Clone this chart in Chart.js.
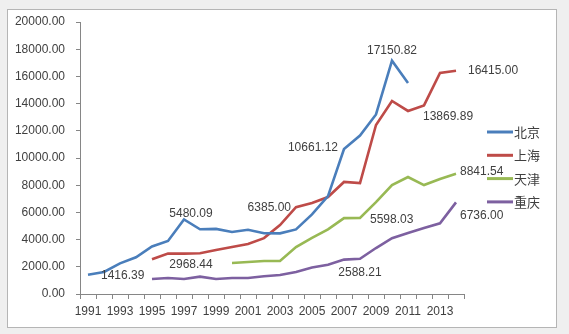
<!DOCTYPE html>
<html>
<head>
<meta charset="utf-8">
<script src="https://cdn.jsdelivr.net/npm/chart.js@4"></script>
<style>
  html, body { margin: 0; padding: 0; background: #efefef; }
  canvas { display: block; }
</style>
</head>
<body>
<canvas id="c" width="569" height="334"></canvas>
<script>
const years = ["1991","1992","1993","1994","1995","1996","1997","1998","1999","2000","2001","2002",
  "2003","2004","2005","2006","2007","2008","2009","2010","2011","2012","2013","2014"];
const cities = ["北京", "上海", "天津", "重庆"];
const colors = ["#4a7ebb", "#be4b48", "#98b954", "#7d60a0"];

const beijing = [1416.39, 1620, 2250, 2700, 3500, 3900, 5480.09, 4760, 4790, 4560, 4720, 4470,
  4460, 4750, 5850, 7200, 10661.12, 11650, 13200, 17150.82, 15520, null, null, null];
const shanghai = [null, null, null, null, 2550, 2980, 2968.44, 3000, 3230, 3450, 3680, 4110,
  5070, 6385.00, 6690, 7130, 8240, 8160, 12430, 14190, 13460, 13869.89, 16250, 16415.00];
const tianjin = [null, null, null, null, null, null, null, null, null, 2280, 2350, 2430,
  2430, 3450, 4120, 4750, 5580, 5598.03, 6760, 8010, 8600, 8010, 8460, 8841.54];
const chongqing = [null, null, null, null, 1100, 1180, 1100, 1280, 1100, 1180, 1180, 1300,
  1400, 1620, 1950, 2150, 2530, 2588.21, 3380, 4100, 4480, 4850, 5200, 6736.00];

// which points carry a value label: [series, year index]
const labelled = [[0, 0], [0, 6], [1, 6], [1, 13], [0, 16], [0, 19], [1, 21], [1, 23], [2, 17], [2, 23], [3, 17], [3, 23]];
// where each label sits relative to its point
const labelPlace = [
  ["left", 13, 1], ["center", 7, -6], ["center", 7, 11], ["right", -5, 1],
  ["right", -6, -1], ["center", 0, -10], ["left", -1, 11], ["left", 12, 0],
  ["left", 10, 2], ["left", 4, -2], ["center", 0, 14], ["left", 4, 13]
];

const font = "'Liberation Sans', Arial, sans-serif";
const textColor = "#404040";
const axisColor = "#868686";

const frame = {
  id: "frame",
  beforeDraw(chart) {
    const ctx = chart.ctx;
    ctx.save();
    ctx.fillStyle = "#efefef";
    ctx.fillRect(0, 0, chart.width, chart.height);
    ctx.fillStyle = "#ffffff";
    ctx.fillRect(7, 9, 549, 318);
    ctx.strokeStyle = "#b5b5b5";
    ctx.lineWidth = 1;
    ctx.strokeRect(7.5, 9.5, 549, 318);
    ctx.restore();
  }
};

const valueLabels = {
  id: "valueLabels",
  afterDatasetsDraw(chart) {
    const ctx = chart.ctx;
    ctx.save();
    ctx.font = "12px " + font;
    ctx.fillStyle = textColor;
    ctx.textBaseline = "middle";
    labelled.forEach(([ds, i], k) => {
      const pt = chart.getDatasetMeta(ds).data[i];
      const [align, dx, dy] = labelPlace[k];
      ctx.textAlign = align;
      ctx.fillText(chart.data.datasets[ds].data[i].toFixed(2), pt.x + dx, pt.y + dy);
    });
    ctx.restore();
  }
};

const sideLegend = {
  id: "sideLegend",
  afterDraw(chart) {
    const ctx = chart.ctx;
    ctx.save();
    ctx.font = "13px 'Noto Sans CJK SC', sans-serif";
    ctx.textBaseline = "middle";
    ctx.textAlign = "left";
    chart.data.datasets.forEach((d, k) => {
      const y = 132 + k * 23.3;
      ctx.strokeStyle = d.borderColor;
      ctx.lineWidth = 3;
      ctx.beginPath();
      ctx.moveTo(487, y);
      ctx.lineTo(513, y);
      ctx.stroke();
      ctx.fillStyle = textColor;
      ctx.fillText(d.label, 514, y);
    });
    ctx.restore();
  }
};

const series = [beijing, shanghai, tianjin, chongqing];

new Chart(document.getElementById("c"), {
  type: "line",
  data: {
    labels: years,
    datasets: series.map((s, k) => ({
      label: cities[k],
      data: s,
      borderColor: colors[k],
      backgroundColor: colors[k],
      borderWidth: 2.6,
      pointRadius: 0,
      tension: 0,
      spanGaps: false
    }))
  },
  options: {
    responsive: false,
    animation: false,
    devicePixelRatio: 1,
    layout: { padding: { left: 7, right: 105, top: 22, bottom: 9 } },
    plugins: { legend: { display: false }, tooltip: { enabled: false } },
    scales: {
      x: {
        offset: true,
        grid: { offset: true, drawOnChartArea: false, drawTicks: true, tickLength: 5, color: axisColor },
        border: { display: true, color: axisColor },
        ticks: {
          autoSkip: false, maxRotation: 0, padding: 5,
          color: textColor, font: { family: font, size: 12 },
          callback: (v, i) => (i % 2 === 0 ? years[i] : "")
        },
        afterFit: (s) => { s.height = 31; }
      },
      y: {
        min: 0, max: 20000,
        ticks: {
          stepSize: 2000, padding: 11,
          color: textColor, font: { family: font, size: 12 },
          callback: (v) => Number(v).toFixed(2)
        },
        grid: { drawOnChartArea: false, drawTicks: true, tickLength: 4, color: axisColor },
        border: { display: true, color: axisColor },
        afterFit: (s) => { s.width = 73; }
      }
    }
  },
  plugins: [frame, valueLabels, sideLegend]
});
</script>
</body>
</html>
